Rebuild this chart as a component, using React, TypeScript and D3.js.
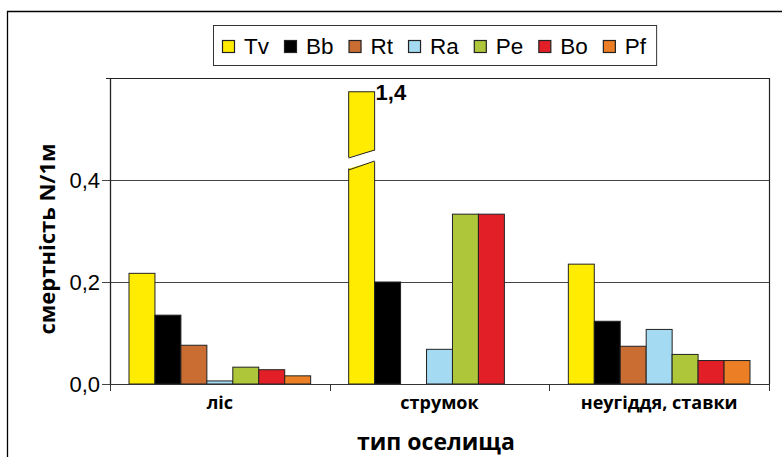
import React, { useEffect, useRef } from "react";
import * as d3 from "d3";

const categories = ["ліс", "струмок", "неугіддя, ставки"];
const seriesNames = ["Tv", "Bb", "Rt", "Ra", "Pe", "Bo", "Pf"];
const seriesColors = ["#FFEC00", "#000000", "#C96D33", "#A4DAF2", "#AEC73A", "#E21F27", "#EC7F25"];

// values per category, in series order
const lisValues = [0.217, 0.135, 0.076, 0.006, 0.033, 0.028, 0.016];
const strumokValues = [1.4, 0.2, 0, 0.068, 0.333, 0.333, 0];
const stavkyValues = [0.235, 0.123, 0.074, 0.107, 0.058, 0.046, 0.046];

const yTicks = [0, 0.2, 0.4];
const yMax = 0.6;
const breakCap = 0.573; // visible height of the broken bar
const brokenLabel = "1,4";

export default function App() {
  const ref = useRef<SVGSVGElement>(null);

  useEffect(() => {
    document.body.style.margin = "0";
    const svg = d3.select(ref.current);
    svg.selectAll("*").remove();

    const W = 782, H = 457;
    const left = 110, right = 769, top = 78, bottom = 384;

    // outer frame
    svg.append("path")
      .attr("d", `M7.5,${H + 5}V11.5H${W + 5}`)
      .attr("fill", "none").attr("stroke", "#000").attr("stroke-width", 1.3);

    const rows = [lisValues, strumokValues, stavkyValues];
    const data = categories.map((c, i) => ({ cat: c, values: rows[i] }));

    const x0 = d3.scaleBand().domain(categories).range([left, right]);
    const bw = x0.bandwidth();
    const x1 = d3.scaleBand().domain(seriesNames).range([19, bw - 19]);
    const y = d3.scaleLinear().domain([0, yMax]).range([bottom, top]);

    const g = svg.append("g");

    // grid lines
    g.selectAll(".grid").data(yTicks.filter(t => t > 0)).join("line")
      .attr("x1", left - 8).attr("x2", right)
      .attr("y1", d => Math.round(y(d)) + 0.5).attr("y2", d => Math.round(y(d)) + 0.5)
      .attr("stroke", "#444").attr("stroke-width", 1);

    // plot frame: top and right
    g.append("path")
      .attr("d", `M${left - 4},${top + 0.5}H${right + 0.5}V${bottom}`)
      .attr("fill", "none").attr("stroke", "#222").attr("stroke-width", 1.2);

    // bars
    const groups = g.selectAll(".grp").data(data).join("g")
      .attr("transform", d => `translate(${x0(d.cat)},0)`);

    groups.selectAll("rect")
      .data(d => d.values.map((v, i) => ({ name: seriesNames[i], v, color: seriesColors[i] })))
      .join("rect")
      .attr("x", d => x1(d.name)!)
      .attr("width", x1.bandwidth())
      .attr("y", d => y(Math.min(d.v, breakCap)))
      .attr("height", d => bottom - y(Math.min(d.v, breakCap)))
      .attr("fill", d => d.color)
      .attr("stroke", d => (d.v > 0 ? "#222" : "none"))
      .attr("stroke-width", 1);

    // axis break on the tall bar
    data.forEach(d => {
      d.values.forEach((v, i) => {
        if (v <= yMax) return;
        const bx = x0(d.cat)! + x1(seriesNames[i])!;
        const bwid = x1.bandwidth();
        const yl = 158, yr = 150, gap = 12;
        g.append("polygon")
          .attr("points", `${bx - 2},${yl} ${bx + bwid + 2},${yr} ${bx + bwid + 2},${yr + gap - 1} ${bx - 2},${yl + gap - 1}`)
          .attr("fill", "#fff");
        g.append("line").attr("x1", bx).attr("y1", yl).attr("x2", bx + bwid).attr("y2", yr)
          .attr("stroke", "#222");
        g.append("line").attr("x1", bx).attr("y1", yl + gap).attr("x2", bx + bwid).attr("y2", yr + gap - 1)
          .attr("stroke", "#222");
        g.append("text")
          .attr("x", bx + bwid + 1).attr("y", y(breakCap) + 8)
          .attr("font-family", "Liberation Sans, Arial, sans-serif")
          .attr("font-weight", "bold").attr("font-size", 22)
          .text(brokenLabel);
      });
    });

    // y axis
    const yAxis = g.append("g").attr("transform", `translate(${left},0)`)
      .call(d3.axisLeft(y).tickValues(yTicks).tickSize(8).tickPadding(2)
        .tickFormat(d => d3.format(".1f")(d as number).replace(".", ",")));
    yAxis.select(".domain").attr("d", `M0.5,${top}V${bottom + 0.5}`).attr("stroke", "#222").attr("stroke-width", 1.3);
    yAxis.selectAll(".tick line").attr("stroke", "#444");
    yAxis.selectAll("text")
      .attr("font-family", "Liberation Sans, Arial, sans-serif")
      .attr("font-size", 22).attr("fill", "#000");

    // x axis
    const xAxis = g.append("g").attr("transform", `translate(0,${bottom})`);
    xAxis.append("line").attr("x1", left).attr("x2", right).attr("y1", 0.5).attr("y2", 0.5)
      .attr("stroke", "#333");
    const bounds = [left, ...categories.map(c => x0(c)! + bw)];
    xAxis.selectAll(".xt").data(bounds).join("line")
      .attr("x1", d => Math.round(d) + 0.5).attr("x2", d => Math.round(d) + 0.5)
      .attr("y1", 0).attr("y2", 7).attr("stroke", "#333");
    xAxis.selectAll(".xl").data(categories).join("text")
      .attr("x", d => x0(d)! + bw / 2).attr("y", 25)
      .attr("text-anchor", "middle")
      .attr("font-family", "Open Sans, sans-serif").attr("font-weight", "bold").attr("font-size", 18)
      .text(d => d);

    // axis titles
    svg.append("text")
      .attr("x", 436).attr("y", 450).attr("text-anchor", "middle")
      .attr("font-family", "Open Sans, sans-serif").attr("font-weight", "bold").attr("font-size", 23)
      .text("тип оселища");
    svg.append("text")
      .attr("transform", `translate(55,239) rotate(-90)`).attr("text-anchor", "middle")
      .attr("font-family", "Open Sans, sans-serif").attr("font-weight", "bold").attr("font-size", 22)
      .text("смертність N/1м");

    // legend
    const lg = svg.append("g");
    const lx = 213, ly = 25, lh = 40;
    const items = lg.selectAll(".li").data(seriesNames).join("g");
    let cx = lx + 9;
    items.each(function (name, i) {
      const it = d3.select(this);
      it.append("rect").attr("x", cx + 0.5).attr("y", 40.5).attr("width", 12).attr("height", 12)
        .attr("fill", seriesColors[i]).attr("stroke", "#222").attr("stroke-width", 1.2);
      const t = it.append("text").attr("x", cx + 22).attr("y", 54)
        .attr("font-family", "Liberation Sans, Arial, sans-serif").attr("font-size", 22.5)
        .text(name);
      const tw = (t.node() as SVGTextElement).getComputedTextLength();
      cx += 22 + tw + 15;
    });
    lg.insert("rect", ":first-child")
      .attr("x", lx + 0.5).attr("y", ly + 0.5).attr("width", cx - lx - 5).attr("height", lh)
      .attr("fill", "#fff").attr("stroke", "#333").attr("stroke-width", 1);
  }, []);

  return <svg ref={ref} width={782} height={457} style={{ display: "block" }} />;
}
